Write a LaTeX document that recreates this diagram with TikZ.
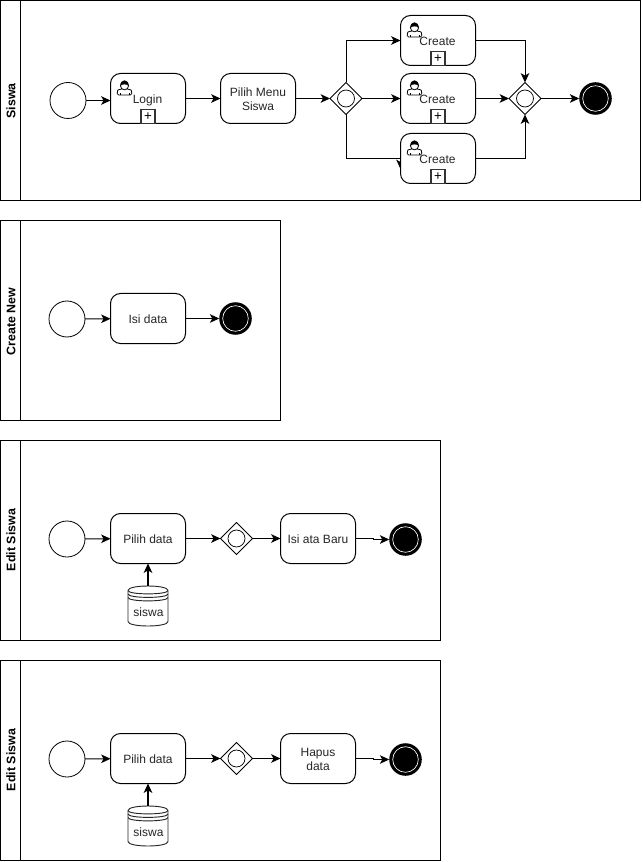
\documentclass[tikz,border=0pt]{standalone}
\usepackage{fontspec}
\setmainfont{Liberation Sans}
\usetikzlibrary{arrows.meta,shapes.geometric}
\newcommand{\dnt}[1]{\raisebox{-0.6pt}[6.5pt][0pt]{#1}}
\tikzset{
  lane/.style={draw=black,line width=0.9pt},
  lanetitle/.style={rotate=90,font=\fontsize{9.3}{11}\selectfont\bfseries,inner sep=0pt},
  taskbox/.style={draw=black,fill=white,line width=0.75pt,rounded corners=7.5pt,minimum width=56.25pt,minimum height=37.5pt,inner sep=0pt,outer sep=0pt,align=center,text=black!85,font=\fontsize{9}{10.5}\selectfont},
  startev/.style={circle,draw=black,fill=white,line width=0.6pt,minimum size=27pt,inner sep=0pt,outer sep=0pt},
  endev/.style={circle,draw=black,fill=black,line width=1.9pt,minimum size=22.5pt,inner sep=0pt,outer sep=0.95pt,
     path picture={\draw[white,line width=0.5pt] (path picture bounding box.center) circle (9.6pt);}},
  gate/.style={diamond,draw=black,fill=white,line width=0.65pt,minimum width=24pt,minimum height=24pt,inner sep=0pt,outer sep=0pt},
  gatering/.style={circle,draw=black,line width=0.55pt,minimum size=12.75pt,inner sep=0pt},
  plusbox/.style={draw=black!80,fill=white,line width=0.8pt,minimum size=10.5pt,inner sep=0pt,outer sep=0pt,font=\fontsize{10}{10}\selectfont},
  label/.style={font=\fontsize{9}{10.5}\selectfont,inner sep=0pt,align=center,text=black!85},
  flow/.style={draw=black,line width=0.75pt,-{Stealth[length=7pt,width=6.4pt,inset=1.8pt]}},
}
% user icon: #1,#2 = top-left corner of the icon, in pixels
\newcommand{\usericon}[2]{%
  \begin{scope}[shift={(#1,#2)}]
    \draw[fill=white,line width=0.6pt,rounded corners=1pt] (0.3,15) -- (0.3,11.5) .. controls (1,9.5) and (3.5,9.5) .. (5,8.5) -- (10,8.5) .. controls (11.5,9.5) and (14,9.5) .. (14.7,11.5) -- (14.7,15) -- cycle;
    \draw[fill=white,line width=0.6pt] (7.5,5.7) circle (4.1);
    \fill[black] (3.4,6) .. controls (3.2,-1.6) and (11.8,-1.6) .. (11.6,6) .. controls (10.6,3.8) and (4.4,3.8) .. (3.4,6) -- cycle;
    \draw[line width=0.4pt] (3,15) -- (3,13) (12,15) -- (12,13);
  \end{scope}}
% data store: #1 = centre x, #2 = top y, in pixels
\newcommand{\storeshape}[2]{%
  \begin{scope}[shift={(#1,#2)}]
    \draw[fill=white,line width=0.7pt,draw=black!85] (-20,4.5) .. controls (-20,-1.5) and (20,-1.5) .. (20,4.5) -- (20,35.5) .. controls (20,41.5) and (-20,41.5) .. (-20,35.5) -- cycle;
    \foreach \d in {4.5,8,11.5}
      \draw[line width=0.7pt,draw=black!85] (-20,\d) .. controls (-20,\d+4.5) and (20,\d+4.5) .. (20,\d);
  \end{scope}}
\begin{document}
\begin{tikzpicture}[x=0.75pt,y=-0.75pt]
\useasboundingbox (0,0) rectangle (642,862);
\fill[white] (0,0) rectangle (642,862);

% lanes
\draw[lane] (0.5,0.5) rectangle (640.5,200.5) (20.5,0.5) -- (20.5,200.5);
\node[lanetitle] (t1) at (11,101) {Siswa};
\draw[lane] (0.5,220.5) rectangle (280.5,420.5) (20.5,220.5) -- (20.5,420.5);
\node[lanetitle] (t2) at (11,321.5) {Create New};
\draw[lane] (0.5,440.5) rectangle (440.5,640.5) (20.5,440.5) -- (20.5,640.5);
\node[lanetitle] (t3) at (11,540) {Edit Siswa};
\draw[lane] (0.5,660.5) rectangle (440.5,860.5) (20.5,660.5) -- (20.5,860.5);
\node[lanetitle] (t4) at (11,760) {Edit Siswa};

% lane 1 anchors (drawn first so that the boxes overlap the odd arrow)
\coordinate (g1) at (346,98.5);
\coordinate (c3in) at (400.5,158.5);
\coordinate (c3tip) at (400.5,169);
\draw[flow] (g1) |- (c3in) -- (c3tip);

% lane 1
\node[startev] (s1) at (68,100.5) {};
\node[taskbox] (login) at (148,98.5) {};
\node[taskbox] (menu) at (258,98.5) {\dnt{Pilih Menu}\\\dnt{Siswa}};
\node[gate] (gw1) at (346,98.5) {};
\node[gatering] (gr1) at (346,98.5) {};
\node[taskbox] (c1) at (438,40.5) {};
\node[taskbox] (c2) at (438,98.5) {};
\node[taskbox] (c3) at (438,158.5) {};
\node[gate] (gw2) at (525,98.5) {};
\node[gatering] (gr2) at (525,98.5) {};
\node[endev] (e1) at (595.5,98.5) {};

\usericon{117}{80}
\usericon{407}{22}
\usericon{407}{80}
\usericon{407}{140}
\node[label] (ll) at (147.5,100) {Login};
\node[label] (lc1) at (437.5,41.4) {Create};
\node[label] (lc2) at (437.5,99.4) {Create};
\node[label] (lc3) at (437.5,159.4) {Create};
\node[plusbox] (pl) at (148,116.5) {+};
\node[plusbox] (p1) at (438,58.5) {+};
\node[plusbox] (p2) at (438,116.5) {+};
\node[plusbox] (p3) at (438,176.5) {+};

\draw[flow] (s1.east) -- (s1.east -| login.west);
\draw[flow] (login) -- (menu);
\draw[flow] (menu) -- (gw1);
\draw[flow] (gw1.north) |- (c1.west);
\draw[flow] (gw1) -- (c2);
\draw[flow] (c1.east) -| (gw2.north);
\draw[flow] (c2) -- (gw2);
\draw[flow] (c3.east) -| (gw2.south);
\draw[flow] (gw2) -- (e1);

% lane 2
\node[startev] (s2) at (67,319) {};
\node[taskbox] (isi) at (148,318.5) {\dnt{Isi data}};
\node[endev] (e2) at (235.5,318.5) {};
\draw[flow] (s2) -- (isi);
\draw[flow] (isi) -- (e2);

% lane 3
\node[startev] (s3) at (67,539) {};
\node[taskbox] (pd3) at (148,538.5) {\dnt{Pilih data}};
\node[gate] (gw3) at (236.5,538.5) {};
\node[gatering] (gr3) at (236.5,538.5) {};
\node[taskbox] (baru) at (318,538.5) {\dnt{Isi ata Baru}};
\node[endev] (e3) at (405.5,539.5) {};
\storeshape{148}{586}
\coordinate (ds3) at (148,586);
\node[label] (ls3) at (148.5,612.5) {siswa};
\draw[flow] (s3) -- (pd3);
\draw[flow] (pd3) -- (gw3);
\draw[flow] (gw3) -- (baru);
\draw[flow] (baru.east) -- ++(18,0) |- (e3.west);
\draw[flow,line width=1.1pt] (ds3) -- (pd3.south);

% lane 4
\node[startev] (s4) at (67,759) {};
\node[taskbox] (pd4) at (148,758.5) {\dnt{Pilih data}};
\node[gate] (gw4) at (236.5,758.5) {};
\node[gatering] (gr4) at (236.5,758.5) {};
\node[taskbox] (hapus) at (318,758.5) {\dnt{Hapus}\\\dnt{data}};
\node[endev] (e4) at (405.5,759.5) {};
\storeshape{148}{806}
\coordinate (ds4) at (148,806);
\node[label] (ls4) at (148.5,832.5) {siswa};
\draw[flow] (s4) -- (pd4);
\draw[flow] (pd4) -- (gw4);
\draw[flow] (gw4) -- (hapus);
\draw[flow] (hapus.east) -- ++(18,0) |- (e4.west);
\draw[flow,line width=1.1pt] (ds4) -- (pd4.south);
\end{tikzpicture}
\end{document}
